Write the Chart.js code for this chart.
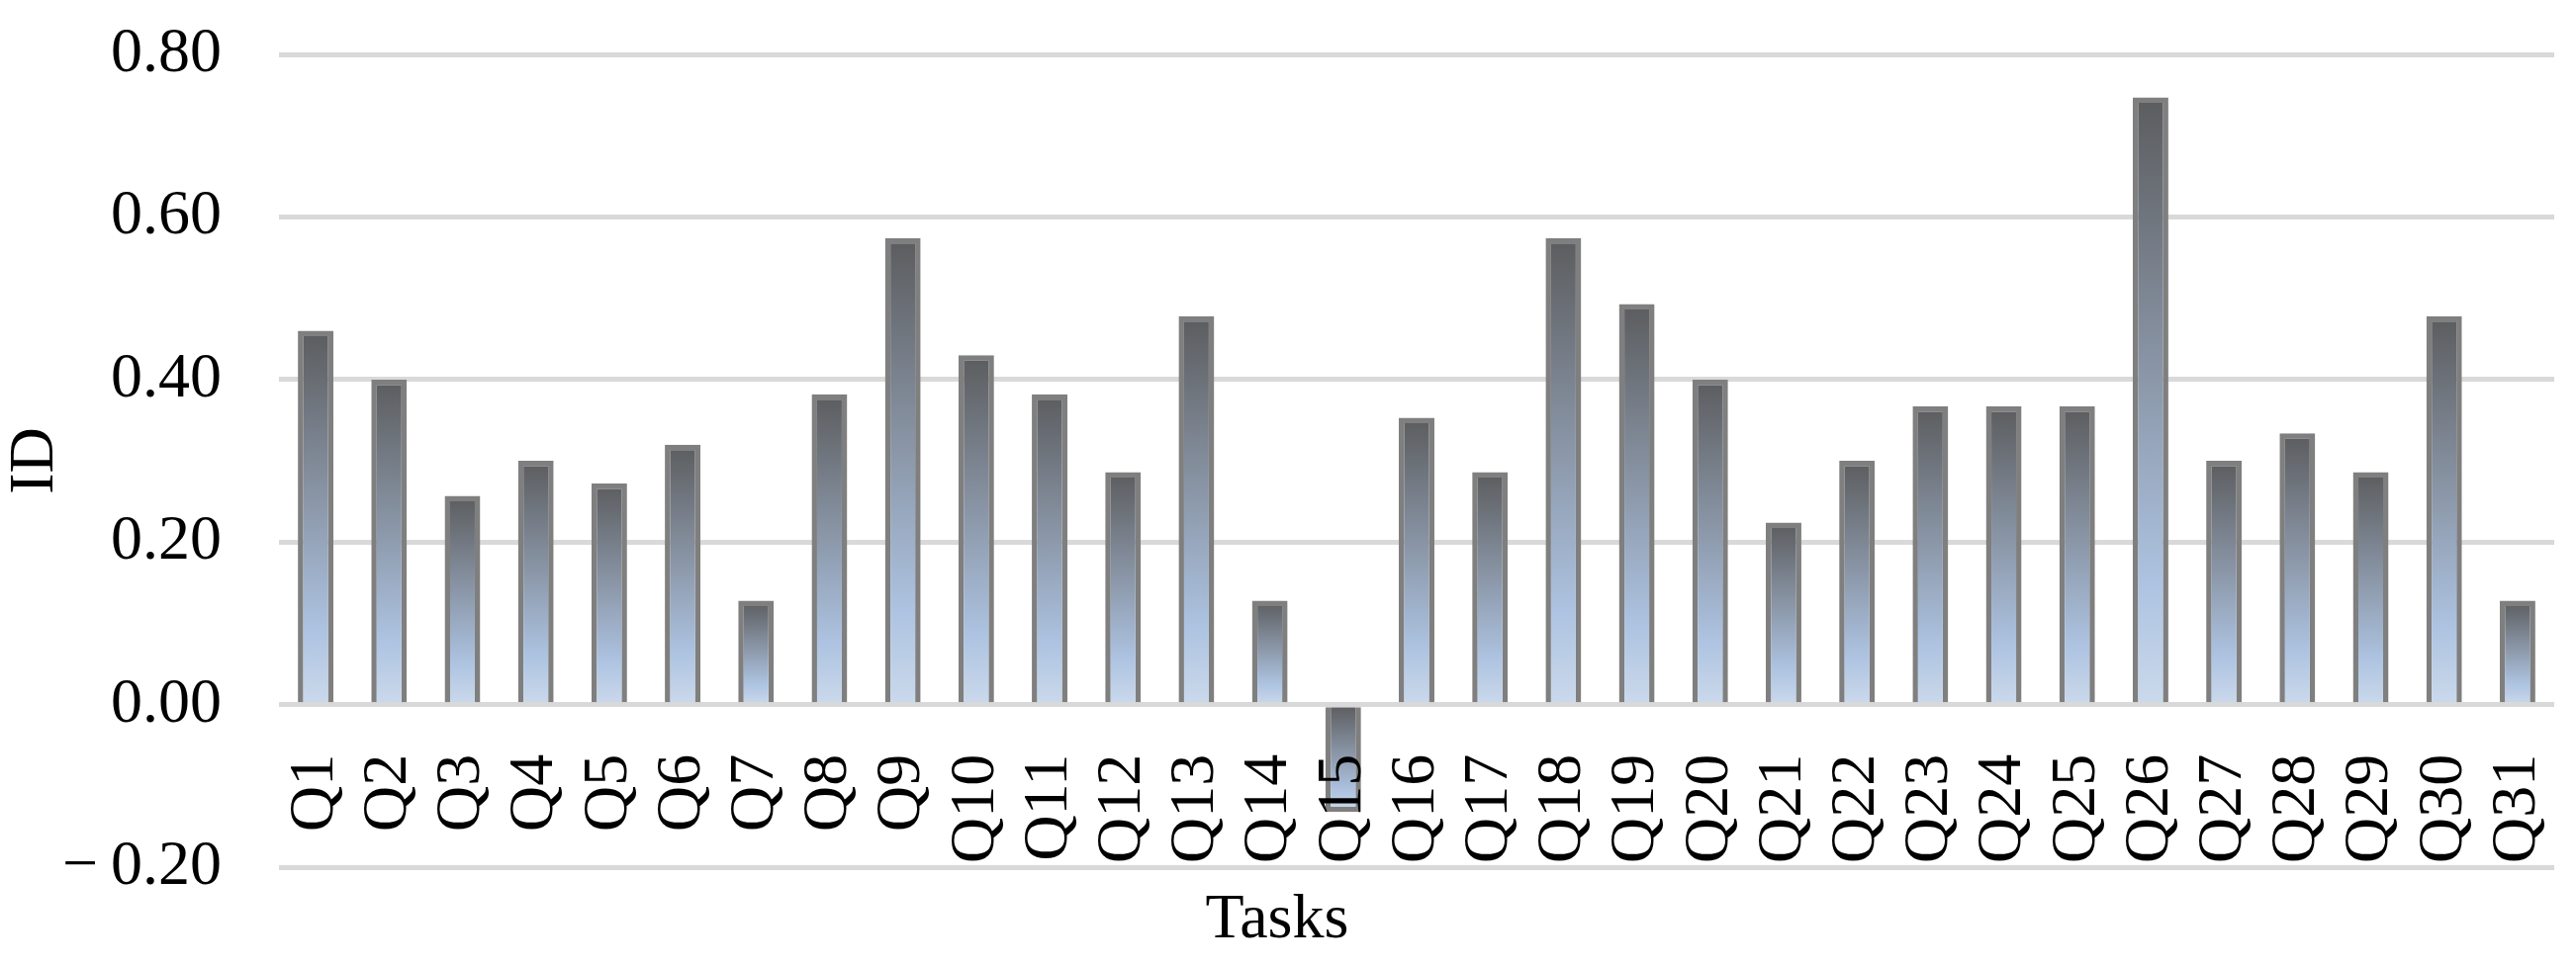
<!DOCTYPE html>
<html>
<head>
<meta charset="utf-8">
<script src="https://cdn.jsdelivr.net/npm/chart.js@4.4.1/dist/chart.umd.min.js"></script>
<style>
    html, body { margin: 0; padding: 0; background: #fff; }
    #wrap { width: 2604px; height: 978px; position: relative; }
</style>
</head>
<body>
<div id="wrap"><canvas id="id-chart"></canvas></div>
<script>
var tasks = ["Q1", "Q2", "Q3", "Q4", "Q5", "Q6", "Q7", "Q8", "Q9", "Q10",
    "Q11", "Q12", "Q13", "Q14", "Q15", "Q16", "Q17", "Q18", "Q19", "Q20",
    "Q21", "Q22", "Q23", "Q24", "Q25", "Q26", "Q27", "Q28", "Q29", "Q30", "Q31"];
var idValues = [0.46, 0.40, 0.257, 0.30, 0.272, 0.32, 0.128, 0.382, 0.574, 0.43,
    0.382, 0.286, 0.478, 0.128, -0.132, 0.353, 0.286, 0.574, 0.493, 0.40,
    0.224, 0.30, 0.367, 0.367, 0.367, 0.747, 0.30, 0.334, 0.286, 0.478, 0.128];
var yTicks = [-0.2, 0, 0.2, 0.4, 0.6, 0.8];

var FONT = "'Liberation Serif', 'Times New Roman', serif";

// each bar gets its own dark-grey -> light-blue gradient
function barFill(c) {
    var chart = c.chart;
    var y = chart.scales.y;
    if (c.type !== "data" || !y) return "#8d9aab";
    var p0 = y.getPixelForValue(0);
    var p1 = y.getPixelForValue(c.raw);
    if (!isFinite(p0) || !isFinite(p1)) return "#8d9aab";
    var top = Math.min(p0, p1), bot = Math.max(p0, p1);
    if (bot - top < 1) return "#5b5c5e";
    var g = chart.ctx.createLinearGradient(0, top, 0, bot);
    g.addColorStop(0, "#5b5c5e");
    g.addColorStop(0.45, "#8a96a7");
    g.addColorStop(0.8, "#adc3e1");
    g.addColorStop(1, "#cbd9eb");
    return g;
}

document.addEventListener("DOMContentLoaded", function () {
    var ctx = document.getElementById("id-chart").getContext("2d");
    new Chart(ctx, {
        type: "bar",
        data: {
            labels: tasks,
            datasets: [
                {
                    label: "ID",
                    data: idValues,
                    backgroundColor: barFill,
                    borderColor: "#7f7f7f",
                    borderWidth: 5.5,
                    barPercentage: 0.485,
                    categoryPercentage: 1,
                },
            ],
        },
        options: {
            responsive: true,
            maintainAspectRatio: false,
            animation: false,
            layout: { padding: { top: 55, right: 22, bottom: 0, left: 0 } },
            plugins: {
                legend: { display: false },
                tooltip: { enabled: false },
                title: {
                    display: true,
                    position: "bottom",
                    text: "Tasks",
                    color: "#000",
                    font: { family: FONT, size: 64, weight: "normal", lineHeight: 1.2 },
                    padding: { top: 16, bottom: 8 },
                },
            },
            scales: {
                x: {
                    position: { y: 0 },
                    grid: { display: false },
                    border: { display: false },
                    ticks: {
                        z: 1, // labels sit on top of the negative Q15 bar
                        autoSkip: false,
                        minRotation: 90,
                        maxRotation: 90,
                        padding: 42,
                        color: "#000",
                        font: { family: FONT, size: 64, lineHeight: 1 },
                    },
                    afterFit: function (s) {
                        s.paddingLeft = 0;
                        s.paddingRight = 0;
                    },
                },
                y: {
                    min: yTicks[0],
                    max: yTicks[yTicks.length - 1],
                    afterBuildTicks: function (s) {
                        s.ticks = yTicks.map(function (v) { return { value: v }; });
                    },
                    afterFit: function (s) {
                        s.width = 282;
                        s.paddingTop = 0;
                        s.paddingBottom = 0;
                    },
                    grid: { color: "#d9d9d9", lineWidth: 5, drawTicks: false },
                    border: { display: false },
                    ticks: {
                        padding: 58,
                        color: "#000",
                        font: { family: FONT, size: 64, lineHeight: 1 },
                        callback: function (v) {
                            var s = Math.abs(v).toFixed(2);
                            return v < -1e-9 ? "\u2212\u2009" + s : s;
                        },
                    },
                    title: {
                        display: true,
                        text: "ID",
                        color: "#000",
                        font: { family: FONT, size: 64, lineHeight: 1 },
                        padding: { top: 4, bottom: 0 },
                    },
                },
            },
        },
    });
});
</script>
</body>
</html>
